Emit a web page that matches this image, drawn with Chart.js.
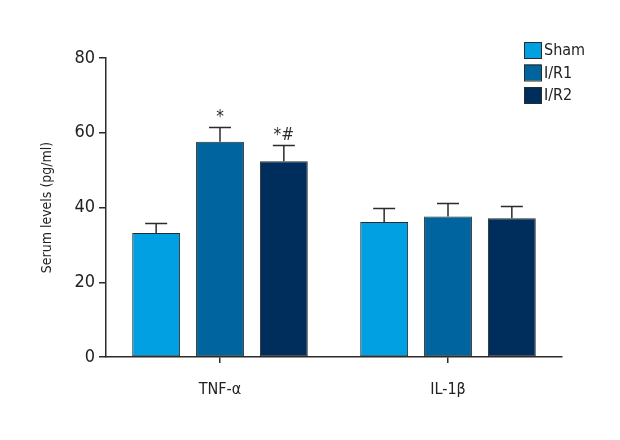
<!DOCTYPE html>
<html>
<head>
<meta charset="utf-8">
<script src="https://cdn.jsdelivr.net/npm/chart.js@4.4.1/dist/chart.umd.min.js"></script>
<style>
  html, body { margin: 0; padding: 0; background: #fff; }
  #wrap { width: 620px; height: 440px; }
</style>
</head>
<body>
<div id="wrap"><canvas id="chart" width="620" height="440"></canvas></div>
<script>
// serum cytokine levels
const categories = ["TNF-α", "IL-1β"];
const groupNames = ["Sham", "I/R1", "I/R2"];
const shamValues = [33.2, 36.1];
const ir1Values = [57.6, 37.6];
const ir2Values = [52.4, 37.1];
const shamErr = [2.5, 3.6];
const ir1Err = [3.8, 3.5];
const ir2Err = [4.2, 3.2];
const shamMarks = ["", ""];
const ir1Marks = ["*", ""];
const ir2Marks = ["*#", ""];
const yTicks = [0, 20, 40, 60, 80];

const colors = ["#00a0e2", "#00649e", "#002e5c"];
const FONT = "'DejaVu Sans Condensed', 'DejaVu Sans', sans-serif";
const ink = "#2b2b2b";

const series = [
  { values: shamValues, err: shamErr, marks: shamMarks },
  { values: ir1Values, err: ir1Err, marks: ir1Marks },
  { values: ir2Values, err: ir2Err, marks: ir2Marks },
];

const datasets = series.map((s, i) => ({
  label: groupNames[i],
  data: s.values,
  errors: s.err,
  marks: s.marks,
  backgroundColor: colors[i],
  borderColor: ink,
  borderWidth: 1,
  borderSkipped: false,
  categoryPercentage: 0.84,
  barPercentage: 0.75,
}));

// error bars (upper only) plus significance marks
const errorBars = {
  id: "errorBars",
  afterDatasetsDraw(chart) {
    const ctx = chart.ctx;
    const y = chart.scales.y;
    ctx.save();
    chart.data.datasets.forEach((ds, di) => {
      const meta = chart.getDatasetMeta(di);
      meta.data.forEach((bar, i) => {
        const top = y.getPixelForValue(ds.data[i] + ds.errors[i]);
        const base = y.getPixelForValue(ds.data[i]);
        ctx.strokeStyle = ink;
        ctx.lineWidth = 1.5;
        ctx.beginPath();
        ctx.moveTo(bar.x, base);
        ctx.lineTo(bar.x, top);
        ctx.moveTo(bar.x - 11, top);
        ctx.lineTo(bar.x + 11, top);
        ctx.stroke();
        if (ds.marks[i]) {
          ctx.fillStyle = ink;
          ctx.font = "17px " + FONT;
          ctx.textAlign = "center";
          ctx.textBaseline = "bottom";
          ctx.fillText(ds.marks[i], bar.x, top - 1);
        }
      });
    });
    ctx.restore();
  },
};

// legend boxes in the top right corner
const cornerLegend = {
  id: "cornerLegend",
  afterDraw(chart) {
    const ctx = chart.ctx;
    ctx.save();
    chart.data.datasets.forEach((ds, i) => {
      const cy = 50 + i * 22.5;
      ctx.fillStyle = ds.backgroundColor;
      ctx.fillRect(524, cy - 8, 17, 16);
      ctx.strokeStyle = ink;
      ctx.lineWidth = 1;
      ctx.strokeRect(524.5, cy - 7.5, 17, 16);
      ctx.fillStyle = "#222";
      ctx.font = "16px " + FONT;
      ctx.textAlign = "left";
      ctx.textBaseline = "middle";
      ctx.fillText(ds.label, 544, cy + 1);
    });
    ctx.restore();
  },
};

new Chart(document.getElementById("chart"), {
  type: "bar",
  data: { labels: categories, datasets: datasets },
  plugins: [errorBars, cornerLegend],
  options: {
    responsive: false,
    animation: false,
    devicePixelRatio: 1,
    layout: { padding: { top: 58, right: 58, bottom: 0, left: 0 } },
    plugins: {
      legend: { display: false },
      tooltip: { enabled: false },
    },
    scales: {
      x: {
        grid: {
          offset: false,
          drawOnChartArea: false,
          drawTicks: true,
          tickLength: 6,
          color: ink,
          lineWidth: 1.5,
        },
        border: { color: ink, width: 1.5 },
        ticks: {
          color: "#222",
          padding: 17,
          font: { family: FONT, size: 16 },
        },
        afterFit: (scale) => { scale.height = 83; },
      },
      y: {
        min: 0,
        max: 80,
        afterBuildTicks: (scale) => {
          scale.ticks = yTicks.map((v) => ({ value: v }));
        },
        grid: {
          drawOnChartArea: false,
          drawTicks: true,
          tickLength: 7,
          color: ink,
          lineWidth: 1.5,
        },
        border: { color: ink, width: 1.5 },
        ticks: {
          color: "#222",
          padding: 4,
          font: { family: FONT, size: 18 },
        },
        title: {
          display: true,
          text: "Serum levels (pg/ml)",
          color: "#222",
          font: { family: FONT, size: 14 },
          padding: { top: 39, bottom: 0 },
        },
        afterFit: (scale) => { scale.width = 106; },
      },
    },
  },
});
</script>
</body>
</html>
